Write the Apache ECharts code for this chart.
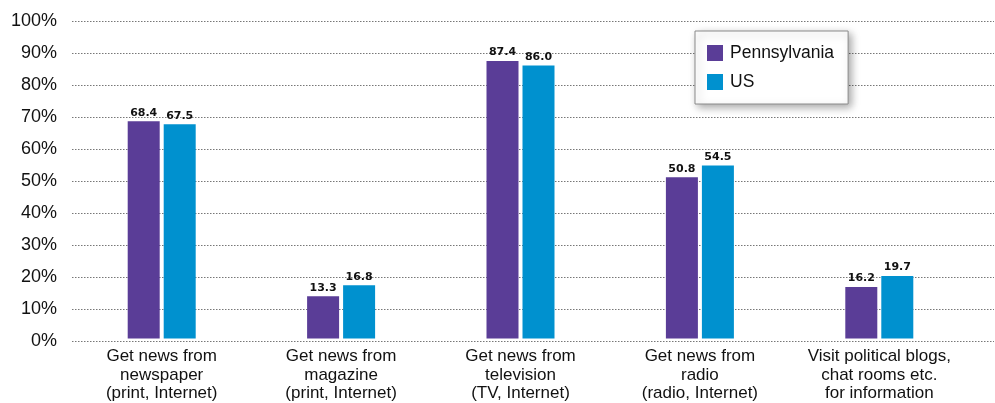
<!DOCTYPE html>
<html>
<head>
<meta charset="utf-8">
<script src="https://cdn.jsdelivr.net/npm/echarts@6/dist/echarts.min.js"></script>
<style>
html,body{margin:0;padding:0;background:#fff;}
#chart{width:995px;height:403px;}
</style>
</head>
<body>
<div id="chart"></div>
<script>
var categories = [
  "Get news from\nnewspaper\n(print, Internet)",
  "Get news from\nmagazine\n(print, Internet)",
  "Get news from\ntelevision\n(TV, Internet)",
  "Get news from\nradio\n(radio, Internet)",
  "Visit political blogs,\nchat rooms etc.\nfor information"
];
var pennsylvania = [68.4, 13.3, 87.4, 50.8, 16.2];
var us = [67.5, 16.8, 86.0, 54.5, 19.7];
var seriesNames = ["Pennsylvania", "US"];

var chart = echarts.init(document.getElementById('chart'));
var labelStyle = {
  show: true,
  position: 'top',
  distance: 3,
  fontFamily: 'DejaVu Sans',
  fontWeight: 'bold',
  fontSize: 11,
  color: '#111',
  formatter: function(p){ return p.value.toFixed(1); }
};
chart.setOption({
  animation: false,
  textStyle: {fontFamily: 'Liberation Sans, Arial, sans-serif'},
  grid: [
    {left: 72, right: 1, top: 21, bottom: 62},
    {left: 72, right: 26, top: 21, bottom: 62}
  ],
  legend: {
    orient: 'vertical',
    left: 695, top: 31,
    data: seriesNames,
    icon: 'rect',
    itemWidth: 16, itemHeight: 16, itemGap: 11,
    padding: [13, 14, 13, 12],
    backgroundColor: '#fff',
    borderColor: '#8a8a8a',
    borderWidth: 1,
    shadowBlur: 8,
    shadowColor: 'rgba(0,0,0,0.35)',
    shadowOffsetX: 3,
    shadowOffsetY: 3,
    textStyle: {fontSize: 17.5, color: '#111', padding: [0,0,0,2]}
  },
  xAxis: [
    {type: 'category', gridIndex: 0, data: categories, show: false},
    {
      type: 'category', gridIndex: 1,
      data: categories,
      axisLine: {show: false},
      axisTick: {show: false},
      axisLabel: {fontSize: 17, color: '#111', lineHeight: 18.5, margin: 9, interval: 0}
    }
  ],
  yAxis: [
    {
      type: 'value', gridIndex: 0,
      min: 0, max: 100, interval: 10,
      axisLine: {show: false},
      axisTick: {show: false},
      axisLabel: {formatter: '{value}%', fontSize: 18, color: '#111', margin: 15},
      splitLine: {show: true, lineStyle: {type: [1.5, 1.5], color: '#777', width: 1}}
    },
    {
      type: 'value', gridIndex: 1,
      min: 0, max: 100, interval: 10,
      show: false,
      splitLine: {show: false}
    }
  ],
  series: [
    {name: seriesNames[0], type: 'bar', xAxisIndex: 1, yAxisIndex: 1, data: pennsylvania, barWidth: 32, barGap: '12.5%',
     itemStyle: {color: '#5a3d97'}, label: labelStyle},
    {name: seriesNames[1], type: 'bar', xAxisIndex: 1, yAxisIndex: 1, data: us, barWidth: 32,
     itemStyle: {color: '#0091cf'}, label: labelStyle}
  ]
});
</script>
</body>
</html>
